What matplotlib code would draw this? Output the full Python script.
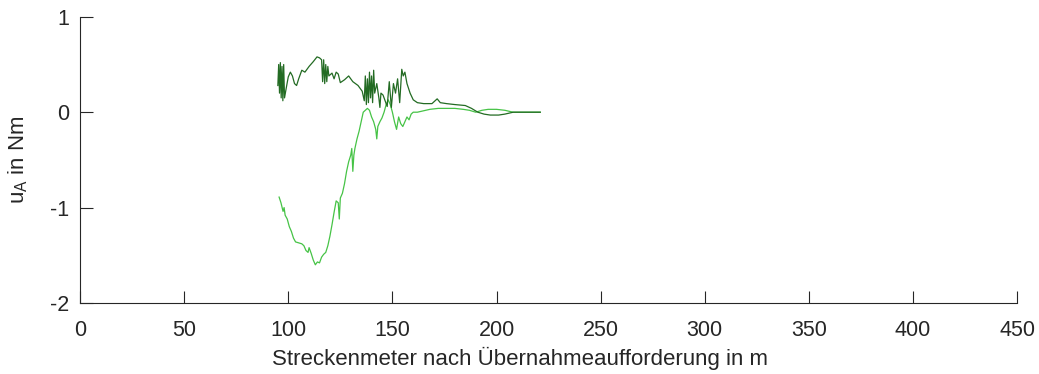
import matplotlib
matplotlib.use("Agg")
import matplotlib.pyplot as plt

# dark green series
x_dark = [95, 95.4, 95.8, 96.2, 96.6, 97.0, 97.4, 97.8, 98.2, 99, 100, 101, 102, 103, 104, 105,
          106.5, 108, 110, 112, 113.8, 115, 116, 116.5, 117, 117.5, 118, 118.5, 119, 119.5, 121,
          122, 123, 124, 125, 127, 129, 131, 133.5, 135.5, 136.5, 137, 137.5, 138, 138.5, 139,
          139.5, 140, 140.5, 141, 141.5, 142.5, 143.5, 144, 144.5, 145.5, 146.5, 147.5, 148.5,
          149.5, 150.5, 151.5, 152.5, 153.5, 154.5, 155.2, 156, 157, 158.5, 160, 162, 165, 169,
          170.5, 171.5, 173, 176, 180, 185, 188, 191, 194, 197, 201, 204, 208, 212, 216, 221]
y_dark = [0.28, 0.5, 0.2, 0.52, 0.15, 0.48, 0.12, 0.5, 0.15, 0.25, 0.37, 0.42, 0.38, 0.30, 0.28, 0.35,
          0.44, 0.42, 0.48, 0.53, 0.58, 0.57, 0.55, 0.32, 0.55, 0.3, 0.5, 0.32, 0.48, 0.38, 0.41,
          0.35, 0.42, 0.40, 0.31, 0.34, 0.38, 0.32, 0.28, 0.22, 0.12, 0.38, 0.08, 0.35, 0.1, 0.42,
          0.15, 0.38, 0.1, 0.44, 0.2, 0.3, 0.15, 0.05, 0.2, 0.18, 0.12, 0.06, 0.32,
          0.05, 0.3, 0.2, 0.35, 0.1, 0.45, 0.38, 0.42, 0.3, 0.2, 0.13, 0.1, 0.09, 0.09,
          0.12, 0.14, 0.1, 0.09, 0.08, 0.07, 0.04, 0.0, -0.02, -0.03, -0.03, -0.02, 0.0, 0.0, 0.0, 0.0]

# light green series
x_light = [95.6, 96.5, 97.5, 98.0, 98.5, 99.5, 100.5, 101.5, 102.5, 103.5, 105, 106.5, 107.5, 108.5,
           109.5, 110, 111, 112, 113, 114, 115, 116, 117, 118, 119, 120, 121, 122, 123, 124, 124.5,
           125, 126, 127, 128, 129, 130, 130.5, 131, 131.5, 132, 133, 134, 135, 136, 137, 138, 139,
           140, 141, 142, 142.5, 143, 144, 145, 146, 147, 148, 149, 150, 151, 152, 153, 154, 155,
           156, 157, 158, 159, 160, 162, 164, 166, 168, 172, 176, 180, 184, 187, 190, 193, 196,
           200, 204, 208, 212, 216, 221]
y_light = [-0.89, -0.95, -1.04, -1.0, -1.08, -1.12, -1.2, -1.25, -1.32, -1.36, -1.37, -1.38, -1.40, -1.45,
           -1.47, -1.42, -1.48, -1.55, -1.60, -1.57, -1.58, -1.52, -1.49, -1.47, -1.40, -1.30, -1.18, -1.05, -0.93, -0.95, -1.12,
           -0.90, -0.85, -0.75, -0.62, -0.52, -0.45, -0.38, -0.62, -0.45, -0.38, -0.28, -0.2, -0.1, 0.0, 0.02, 0.04, 0.02,
           -0.05, -0.1, -0.18, -0.28, -0.15, -0.1, -0.06, 0.0, 0.08, 0.13, 0.08, 0.0, -0.1, -0.18, -0.05, -0.12, -0.15,
           -0.1, -0.05, -0.08, -0.02, 0.0, 0.0, 0.01, 0.02, 0.03, 0.04, 0.04, 0.04, 0.03, 0.02, 0.0, 0.02, 0.03,
           0.03, 0.02, 0.0, 0.0, 0.0, 0.0]

x_ticks = [0, 50, 100, 150, 200, 250, 300, 350, 400, 450]
y_ticks = [-2, -1, 0, 1]

plt.rcParams['font.family'] = ['Liberation Sans', 'DejaVu Sans']
plt.rcParams['mathtext.fontset'] = 'custom'
plt.rcParams['mathtext.rm'] = 'Liberation Sans'
plt.rcParams['mathtext.it'] = 'Liberation Sans:italic'
plt.rcParams['axes.unicode_minus'] = False

fig = plt.figure(figsize=(10.39, 3.74), dpi=100)
ax = fig.add_axes([0.077, 0.19, 0.902, 0.765])

ax.plot(x_light, y_light, color='#46c346', lw=0.9)
ax.plot(x_dark, y_dark, color='#236b23', lw=0.9)

ax.set_xlim(0, 450)
ax.set_ylim(-2, 1)
ax.set_xticks(x_ticks)
ax.set_yticks(y_ticks)
for s in ['top', 'right']:
    ax.spines[s].set_visible(False)
for s in ['left', 'bottom']:
    ax.spines[s].set_color('#262626')
    ax.spines[s].set_linewidth(0.8)
ax.tick_params(direction='in', length=9, width=0.8, colors='#262626', labelsize=15.5)
ax.tick_params(axis='x', pad=12)
ax.tick_params(axis='y', pad=8)
ax.set_xlabel('Streckenmeter nach Übernahmeaufforderung in m', fontsize=16, color='#262626')
ax.xaxis.set_label_coords(0.469, -0.155, transform=ax.transAxes)
ax.xaxis.label.set_verticalalignment('top')
ax.set_ylabel('u$_\\mathrm{A}$ in Nm', fontsize=16, color='#262626', labelpad=14)

fig.savefig('out.png', dpi=100)
